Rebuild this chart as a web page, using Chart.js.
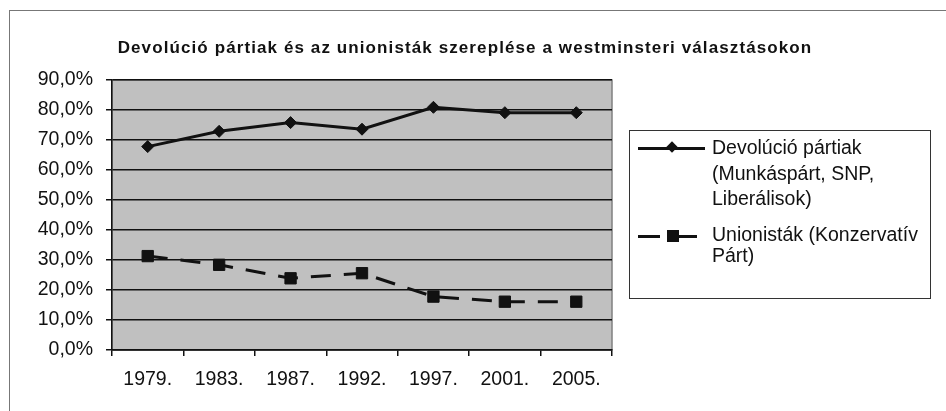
<!DOCTYPE html>
<html>
<head>
<meta charset="utf-8">
<script src="https://cdn.jsdelivr.net/npm/chart.js@4"></script>
<style>
  html, body { margin: 0; padding: 0; background: #fff; }
  #wrap { position: relative; width: 946px; height: 411px; overflow: hidden; font-family: "Liberation Sans", Arial, sans-serif; }
  #frame { position: absolute; left: 9px; top: 10px; width: 960px; height: 420px; border-left: 1.5px solid #777; border-top: 1.5px solid #777; }
  #title { position: absolute; left: 0; width: 930px; top: 38px; text-align: center; font-weight: bold; font-size: 17px; letter-spacing: 1.1px; color: #111; }
  #legend { position: absolute; left: 629px; top: 130px; width: 302px; height: 169px; border: 1.5px solid #333; box-sizing: border-box; }
  .item { position: absolute; left: 82px; font-size: 19.5px; color: #111; }
  .sample { position: absolute; }
  canvas { position: absolute; left: 0; top: 0; }
</style>
</head>
<body>
<div id="wrap">
  <div id="frame"></div>
  <canvas id="myChart" width="946" height="411"></canvas>
  <div id="title">Devolúció pártiak és az unionisták szereplése a westminsteri választásokon</div>
  <div id="legend"></div>
</div>
<script>
var years = ["1979.", "1983.", "1987.", "1992.", "1997.", "2001.", "2005."];
var devolucioLabel = "Devolúció pártiak (Munkáspárt, SNP, Liberálisok)";
var devolucio = [67.8, 72.9, 75.8, 73.6, 80.9, 79.1, 79.1];
var unionistaLabel = "Unionisták (Konzervatív Párt)";
var unionista = [31.3, 28.4, 23.9, 25.6, 17.8, 16.1, 16.1];
var yTicks = [0, 10, 20, 30, 40, 50, 60, 70, 80, 90];

var plotBg = {
  id: 'plotBg',
  beforeDraw: function(chart) {
    var a = chart.chartArea, ctx = chart.ctx;
    ctx.save();
    ctx.fillStyle = '#c0c0c0';
    ctx.fillRect(a.left, a.top, a.right - a.left, a.bottom - a.top);
    ctx.strokeStyle = '#808080';
    ctx.lineWidth = 1.5;
    ctx.strokeRect(a.left, a.top, a.right - a.left, a.bottom - a.top);
    ctx.restore();
  }
};

var tickFont = { family: "'Liberation Sans', Arial, sans-serif", size: 19.5 };

var ctx = document.getElementById('myChart');
var chart = new Chart(ctx, {
  type: 'line',
  data: {
    labels: years,
    datasets: [
      {
        label: devolucioLabel,
        data: devolucio,
        borderColor: '#111',
        backgroundColor: '#111',
        borderWidth: 3,
        pointStyle: 'rectRot',
        pointRadius: 6,
        pointBorderWidth: 1,
        tension: 0
      },
      {
        label: unionistaLabel,
        data: unionista,
        borderColor: '#111',
        backgroundColor: '#111',
        borderWidth: 3,
        borderDash: [20, 13],
        pointStyle: 'rect',
        pointRadius: 8,
        pointBorderWidth: 1,
        tension: 0
      }
    ]
  },
  options: {
    responsive: false,
    animation: false,
    layout: { padding: { top: 80, right: 334, bottom: 0, left: 0 } },
    plugins: {
      legend: { display: false },
      title: { display: false },
      tooltip: { enabled: false }
    },
    scales: {
      x: {
        offset: true,
        grid: { drawOnChartArea: false, drawTicks: true, tickLength: 6, color: '#111', lineWidth: 1.5, offset: true },
        border: { display: true, color: '#111', width: 1.5 },
        ticks: { color: '#111', font: tickFont, padding: 12, maxRotation: 0 },
        afterFit: function(scale) { scale.height = 61; }
      },
      y: {
        min: 0,
        max: 90,
        afterBuildTicks: function(scale) {
          scale.ticks = yTicks.map(function(v) { return { value: v }; });
        },
        grid: { color: '#111', lineWidth: 1.5, drawTicks: true, tickLength: 6 },
        border: { display: true, color: '#111', width: 1.5 },
        ticks: {
          color: '#111',
          font: tickFont,
          padding: 13,
          callback: function(v) { return v.toFixed(1).replace('.', ',') + '%'; }
        },
        afterFit: function(scale) { scale.width = 112; }
      }
    }
  },
  plugins: [plotBg]
});

// HTML legend built from the datasets
var legend = document.getElementById('legend');
function addSample(top, dashed) {
  if (dashed) {
    legend.insertAdjacentHTML('beforeend',
      '<div class="sample" style="left:8px;top:' + (top - 1.5) + 'px;width:22px;height:3px;background:#111"></div>' +
      '<div class="sample" style="left:37px;top:' + (top - 6) + 'px;width:12px;height:12px;background:#111"></div>' +
      '<div class="sample" style="left:49px;top:' + (top - 1.5) + 'px;width:18px;height:3px;background:#111"></div>');
  } else {
    legend.insertAdjacentHTML('beforeend',
      '<div class="sample" style="left:8px;top:' + (top - 1.5) + 'px;width:67px;height:3px;background:#111"></div>' +
      '<div class="sample" style="left:38px;top:' + (top - 5) + 'px;width:8px;height:8px;background:#111;transform:rotate(45deg)"></div>');
  }
}
addSample(17, false);
legend.insertAdjacentHTML('beforeend',
  '<div class="item" style="top:4px;line-height:25.5px">Devolúció pártiak<br>(Munkáspárt, SNP,<br>Liberálisok)</div>');
addSample(105, true);
legend.insertAdjacentHTML('beforeend',
  '<div class="item" style="top:93px;line-height:20.5px">Unionisták (Konzervatív<br>Párt)</div>');
</script>
</body>
</html>
